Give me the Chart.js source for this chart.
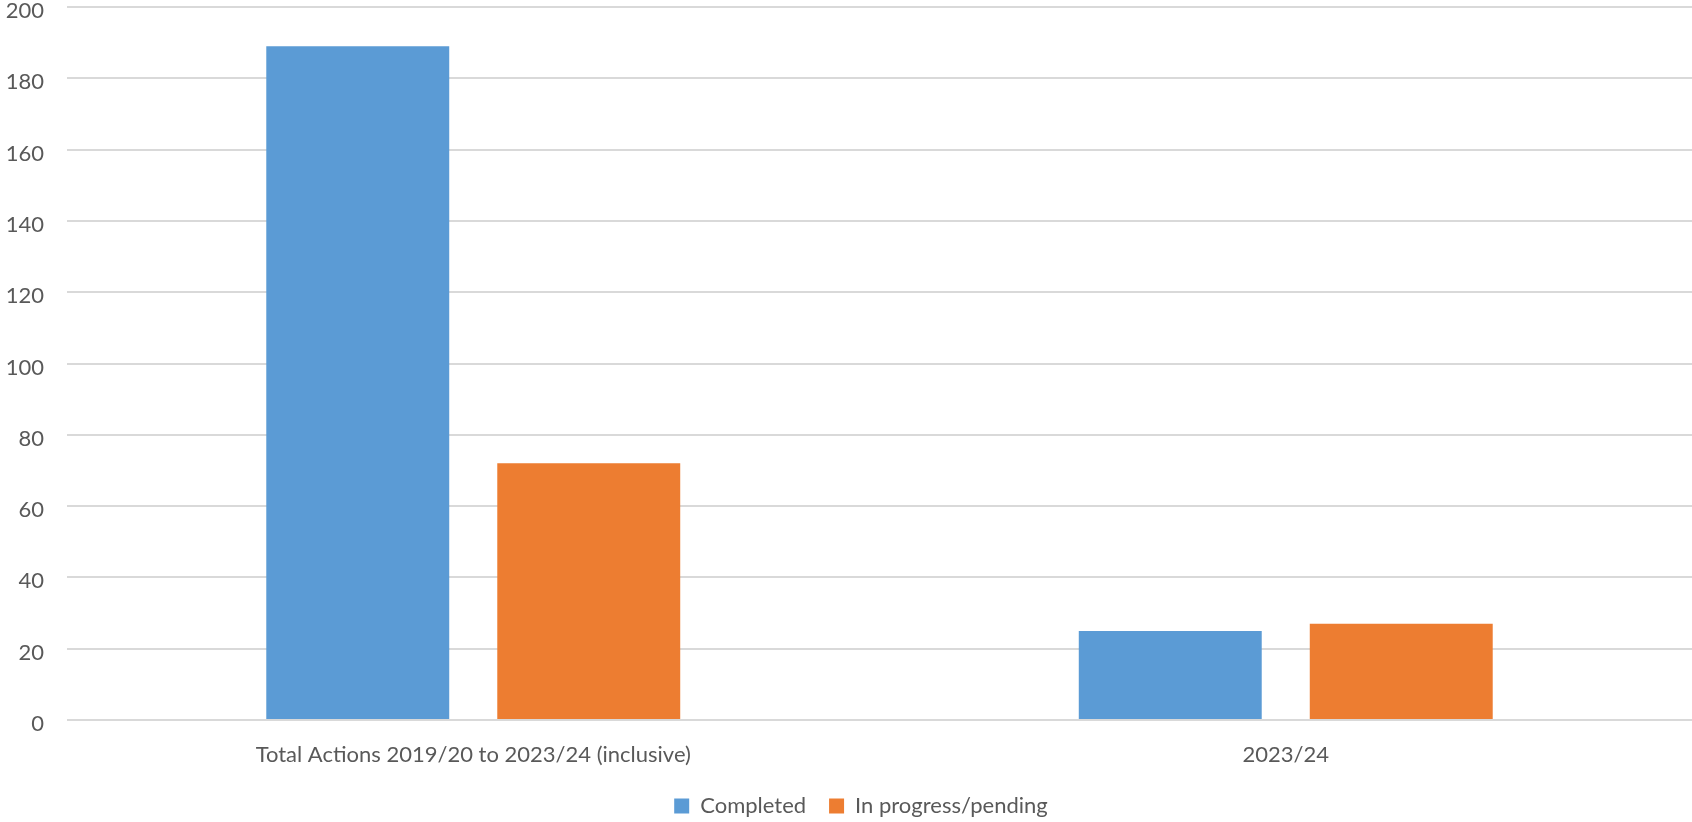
<!DOCTYPE html>
<html>
<head>
<meta charset="utf-8">
<script src="https://cdn.jsdelivr.net/npm/chart.js@4/dist/chart.umd.min.js"></script>
<style>
  html, body { margin: 0; padding: 0; background: #ffffff; overflow: hidden; }
  #wrap { width: 1692px; height: 822px; position: relative; }
</style>
</head>
<body>
<div id="wrap"><canvas id="chart"></canvas></div>
<script>
// Action status counts
const categories = ['Total Actions 2019/20 to 2023/24 (inclusive)', '2023/24'];
const completed = [189, 25];
const inProgress = [72, 27];
const seriesNames = ['Completed', 'In progress/pending'];
const yTicks = { min: 0, max: 200, step: 20 };

const TEXT = '#595959';
const GRID = '#d9d9d9';
const FONT = 'Lato, "Open Sans", sans-serif';
const FONT_SIZE = 22;

// nudges the bottom legend so it sits centred under the plot
const legendShift = {
  id: 'legendShift',
  afterLayout(chart) {
    const lg = chart.legend;
    if (lg) { lg.left += 15; lg.right += 15; }
  }
};

new Chart(document.getElementById('chart'), {
  type: 'bar',
  data: {
    labels: categories,
    datasets: [
      { label: seriesNames[0], data: completed, backgroundColor: '#5B9BD5', borderWidth: 0 },
      { label: seriesNames[1], data: inProgress, backgroundColor: '#ED7D31', borderWidth: 0 }
    ]
  },
  options: {
    responsive: true,
    maintainAspectRatio: false,
    animation: false,
    events: [],
    layout: { padding: { top: 7, right: 0, bottom: -5, left: 0 } },
    datasets: { bar: { categoryPercentage: 0.5686, barPercentage: 0.792 } },
    scales: {
      x: {
        grid: { display: false, drawTicks: false },
        border: { display: false },
        ticks: { color: TEXT, font: { family: FONT, size: FONT_SIZE }, padding: 22, maxRotation: 0 },
        afterFit(s) { s.height = 52; s.paddingLeft = 0; s.paddingRight = 0; }
      },
      y: {
        min: yTicks.min, max: yTicks.max,
        grid: { color: GRID, lineWidth: 2, drawTicks: false },
        border: { display: false },
        ticks: { stepSize: yTicks.step, color: TEXT, font: { family: FONT, size: FONT_SIZE }, padding: 23, labelOffset: 4 },
        afterFit(s) { s.width = 67; s.paddingTop = 0; s.paddingBottom = 0; }
      }
    },
    plugins: {
      legend: {
        position: 'bottom',
        labels: { boxWidth: 15, boxHeight: 15, padding: 23, color: TEXT, font: { family: FONT, size: FONT_SIZE } }
      },
      tooltip: { enabled: false }
    }
  },
  plugins: [legendShift]
});
</script>
</body>
</html>
